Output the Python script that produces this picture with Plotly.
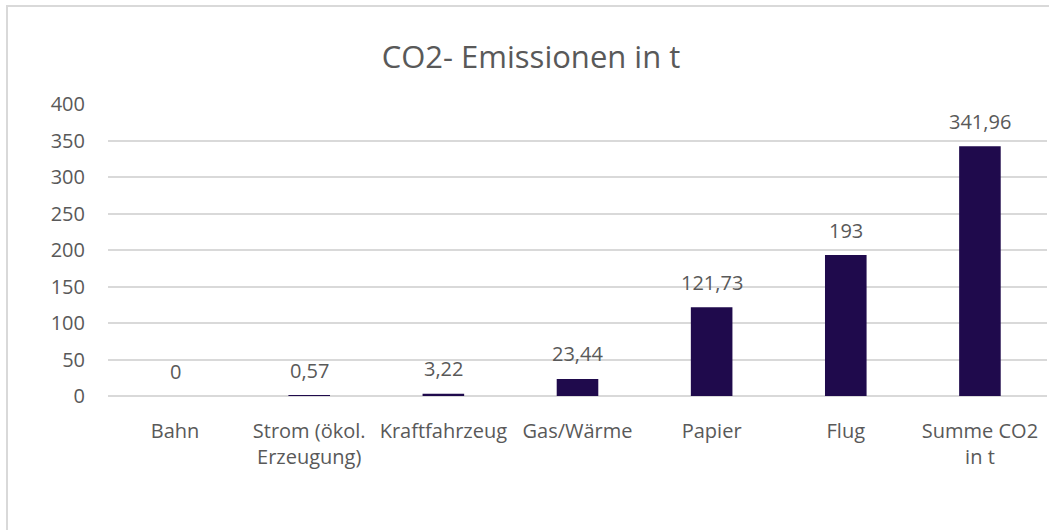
import plotly.graph_objects as go

categories = ["Bahn", "Strom (ökol.<br>Erzeugung)", "Kraftfahrzeug", "Gas/Wärme",
              "Papier", "Flug", "Summe CO2<br>in t"]
values = [0, 0.57, 3.22, 23.44, 121.73, 193, 341.96]
y_ticks = [0, 50, 100, 150, 200, 250, 300, 350, 400]

BAR = "#1f0a4c"
TXT = "#595959"
GRID = "#d9d9d9"
FONT = "Open Sans"

fig = go.Figure()
fig.add_trace(go.Bar(x=categories, y=values, marker=dict(color=BAR, line=dict(width=0)),
                     width=0.31, hoverinfo="skip"))

for c, v in zip(categories, values):
    fig.add_annotation(x=c, y=v, text=f"{v:g}".replace(".", ","), showarrow=False,
                       yanchor="middle", yshift=25,
                       font=dict(family=FONT, size=20, color=TXT))

fig.add_shape(type="rect", xref="paper", yref="paper",
              x0=(7 - 108) / 939, x1=1.05, y0=-0.5, y1=(396 - 6) / 292,
              line=dict(color=GRID, width=2), fillcolor="rgba(0,0,0,0)")

fig.update_layout(
    width=1049, height=530,
    margin=dict(l=108, r=2, t=104, b=134),
    paper_bgcolor="white", plot_bgcolor="white",
    showlegend=False,
    title=dict(text="CO2- Emissionen in t", x=531 / 1049, xref="container", xanchor="center",
               y=1 - 57 / 530, yanchor="middle",
               font=dict(family=FONT, size=31, color=TXT)),
    font=dict(family=FONT, size=20, color=TXT),
    xaxis=dict(showgrid=False, showline=False, ticks="", zeroline=False,
               ticklabelstandoff=21,
               tickfont=dict(family=FONT, size=20, color=TXT)),
    yaxis=dict(range=[0, 400], tickvals=y_ticks, showgrid=True, gridcolor=GRID, gridwidth=2,
               zeroline=True, zerolinecolor=GRID, zerolinewidth=2, showline=False,
               ticks="", ticklabelstandoff=22,
               tickfont=dict(family=FONT, size=20, color=TXT)),
    bargap=0.69,
)

fig.write_html("out.html")
